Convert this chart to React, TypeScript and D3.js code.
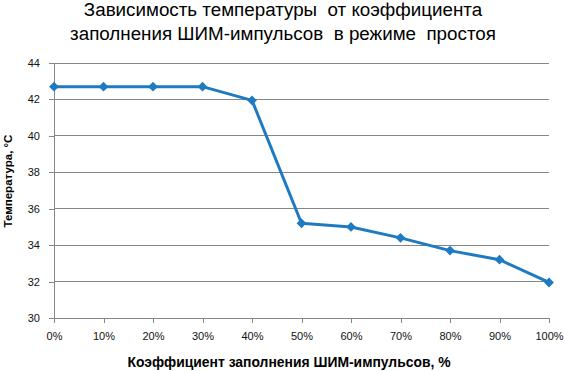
import * as d3 from "d3";
import React, { useEffect, useRef } from "react";

const categories = ["0%", "10%", "20%", "30%", "40%", "50%", "60%", "70%", "80%", "90%", "100%"];
const temperatures = [42.7, 42.7, 42.7, 42.7, 41.95, 35.2, 35.0, 34.4, 33.7, 33.2, 31.95];
const yTicks = [30, 32, 34, 36, 38, 40, 42, 44];
const titleLines = ["Зависимость температуры  от коэффициента", "заполнения ШИМ-импульсов  в режиме  простоя"];
const xTitle = "Коэффициент заполнения ШИМ-импульсов, %";
const yTitle = "Температура, °С";

const App: React.FC = () => {
  const svgRef = useRef<SVGSVGElement>(null);

  useEffect(() => {
    const width = 565;
    const height = 371;
    const margin = { top: 63, right: 16, bottom: 53, left: 54 };
    const font = "'Liberation Sans', Arial, sans-serif";

    const svg = d3.select(svgRef.current);
    svg.selectAll("*").remove();
    svg.attr("width", width).attr("height", height).style("font-family", font);

    svg.append("rect").attr("width", width).attr("height", height).attr("fill", "#fff");

    const x = d3.scalePoint<string>()
      .domain(categories)
      .range([margin.left, width - margin.right]);

    const y = d3.scaleLinear()
      .domain([30, 44])
      .range([height - margin.bottom, margin.top]);

    // сетка
    svg.append("g")
      .selectAll("line")
      .data(yTicks.slice(1))
      .enter()
      .append("line")
      .attr("x1", margin.left)
      .attr("x2", width - margin.right)
      .attr("y1", (d) => y(d))
      .attr("y2", (d) => y(d))
      .attr("stroke", "#868686")
      .attr("stroke-width", 1)
      .attr("shape-rendering", "crispEdges");

    // ось Y
    const yAxis = svg.append("g")
      .attr("transform", `translate(${margin.left},0)`)
      .call(d3.axisLeft(y).tickValues(yTicks).tickSize(5).tickPadding(9));
    yAxis.select(".domain").attr("stroke", "#868686");
    yAxis.selectAll(".tick line").attr("stroke", "#868686");
    yAxis.selectAll("text")
      .style("font-family", font)
      .style("font-size", "11px")
      .attr("fill", "#111");

    // ось X
    const xAxis = svg.append("g")
      .attr("transform", `translate(0,${height - margin.bottom})`)
      .call(d3.axisBottom(x).tickSize(5).tickPadding(9));
    xAxis.select(".domain").attr("stroke", "#868686");
    xAxis.selectAll(".tick line").attr("stroke", "#868686");
    xAxis.selectAll("text")
      .style("font-family", font)
      .style("font-size", "11px")
      .attr("fill", "#111");

    svg.selectAll(".domain, .tick line").attr("shape-rendering", "crispEdges");

    // линия
    const line = d3.line<number>()
      .x((_, i) => x(categories[i]) as number)
      .y((d) => y(d));

    svg.append("path")
      .datum(temperatures)
      .attr("d", line)
      .attr("fill", "none")
      .attr("stroke", "#1f7bc1")
      .attr("stroke-width", 3)
      .attr("stroke-linejoin", "round");

    // маркеры-ромбы
    svg.append("g")
      .selectAll("path")
      .data(temperatures)
      .enter()
      .append("path")
      .attr("d", d3.symbol().type(d3.symbolSquare).size(48))
      .attr("transform", (d, i) => `translate(${x(categories[i])},${y(d)}) rotate(45)`)
      .attr("fill", "#1f7bc1");

    // заголовок
    svg.append("g")
      .selectAll("text")
      .data(titleLines)
      .enter()
      .append("text")
      .attr("x", 283)
      .attr("y", (_, i) => 15.5 + i * 24.5)
      .attr("text-anchor", "middle")
      .style("font-size", "18.8px")
      .style("white-space", "pre")
      .attr("fill", "#000")
      .text((d) => d);

    svg.append("text")
      .attr("x", 289)
      .attr("y", 367)
      .attr("text-anchor", "middle")
      .style("font-size", "13.9px")
      .style("font-weight", "bold")
      .attr("fill", "#000")
      .text(xTitle);

    svg.append("text")
      .attr("transform", `translate(12,181) rotate(-90)`)
      .attr("text-anchor", "middle")
      .style("font-size", "11.5px")
      .style("font-weight", "bold")
      .attr("fill", "#000")
      .text(yTitle);
  }, []);

  return <svg ref={svgRef} style={{ position: "absolute", left: 0, top: 0 }} />;
};

export default App;
